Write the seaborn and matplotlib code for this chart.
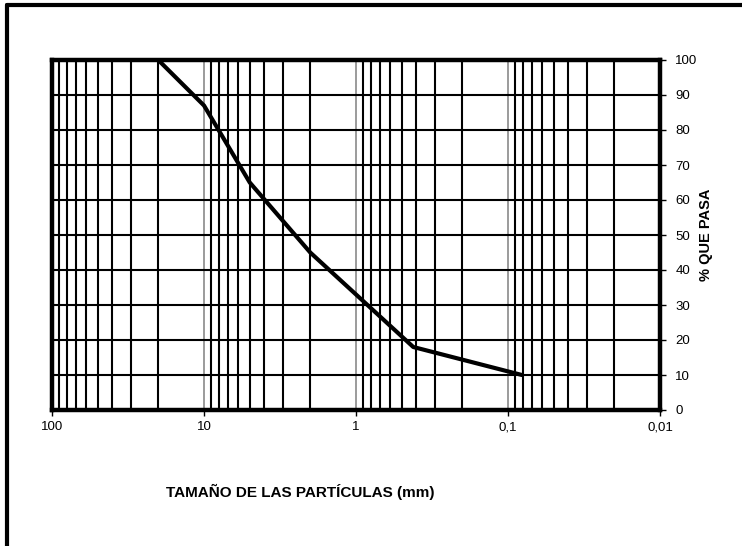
import matplotlib
matplotlib.use("Agg")
import matplotlib.pyplot as plt
import matplotlib.ticker as mticker
from matplotlib.lines import Line2D
import seaborn as sns
import pandas as pd

# sieve sizes (mm) and cumulative % passing
size_mm = [20, 10, 5, 2, 0.42, 0.081]
pct_passing = [100, 87, 65, 45, 18, 10]

x_ticks = [100, 10, 1, 0.1, 0.01]
x_ticklabels = ["100", "10", "1", "0,1", "0,01"]
y_ticks = list(range(0, 101, 10))

sns.set_style("white")
plt.rcParams['font.family'] = ['Liberation Sans', 'DejaVu Sans']
plt.rcParams['text.color'] = 'black'
plt.rcParams['xtick.color'] = 'black'
plt.rcParams['ytick.color'] = 'black'
plt.rcParams['axes.labelcolor'] = 'black'

fig = plt.figure(figsize=(7.42, 5.46), dpi=100)
ax = fig.add_axes([52 / 742, 1 - 410 / 546, 608 / 742, 350 / 546])

df = pd.DataFrame({"size": size_mm, "pct": pct_passing})

ax.set_xscale("log")
ax.set_xlim(100, 0.01)
ax.set_ylim(0, 100)

# grid: decade lines grey, intermediate lines black
for dec in [10, 1, 0.1, 0.01]:
    for m in range(1, 10):
        v = dec * m
        if v >= 100 or v <= 0.01:
            continue
        if m == 1:
            ax.axvline(v, color="#8a8a8a", lw=1.2, zorder=1)
        else:
            ax.axvline(v, color="black", lw=1.5, zorder=1)
for yv in y_ticks[1:-1]:
    ax.axhline(yv, color="black", lw=1.5, zorder=1)

sns.lineplot(data=df, x="size", y="pct", ax=ax, color="black", lw=3, zorder=3)

ax.set_xticks(x_ticks)
ax.set_xticklabels(x_ticklabels, fontsize=9.5)
ax.xaxis.set_minor_locator(mticker.NullLocator())
ax.set_yticks(y_ticks)
ax.yaxis.tick_right()
ax.tick_params(axis="y", labelsize=9.5, length=4, width=1, direction="out", pad=7,
               right=True, left=False, labelright=True, labelleft=False)
ax.tick_params(axis="x", length=4, width=1, direction="out", bottom=True, pad=4)
ax.set_xlabel("")
ax.set_ylabel("% QUE PASA", fontsize=10.5, fontweight="bold", labelpad=1)
ax.yaxis.set_label_position("right")

for s in ax.spines.values():
    s.set_visible(True)
    s.set_color("black")
    s.set_linewidth(3.2)

fig.text(300 / 742, 1 - 492 / 546, "TAMAÑO DE LAS PARTÍCULAS (mm)", ha="center", va="center",
         fontsize=11, fontweight="bold")

# outer frame (top and left edges visible)
fig.add_artist(Line2D([7 / 742, 1.0], [1 - 5 / 546, 1 - 5 / 546], transform=fig.transFigure,
                      color="black", lw=3))
fig.add_artist(Line2D([7 / 742, 7 / 742], [0.0, 1 - 5 / 546], transform=fig.transFigure,
                      color="black", lw=3))

fig.savefig("out.png", dpi=100)
